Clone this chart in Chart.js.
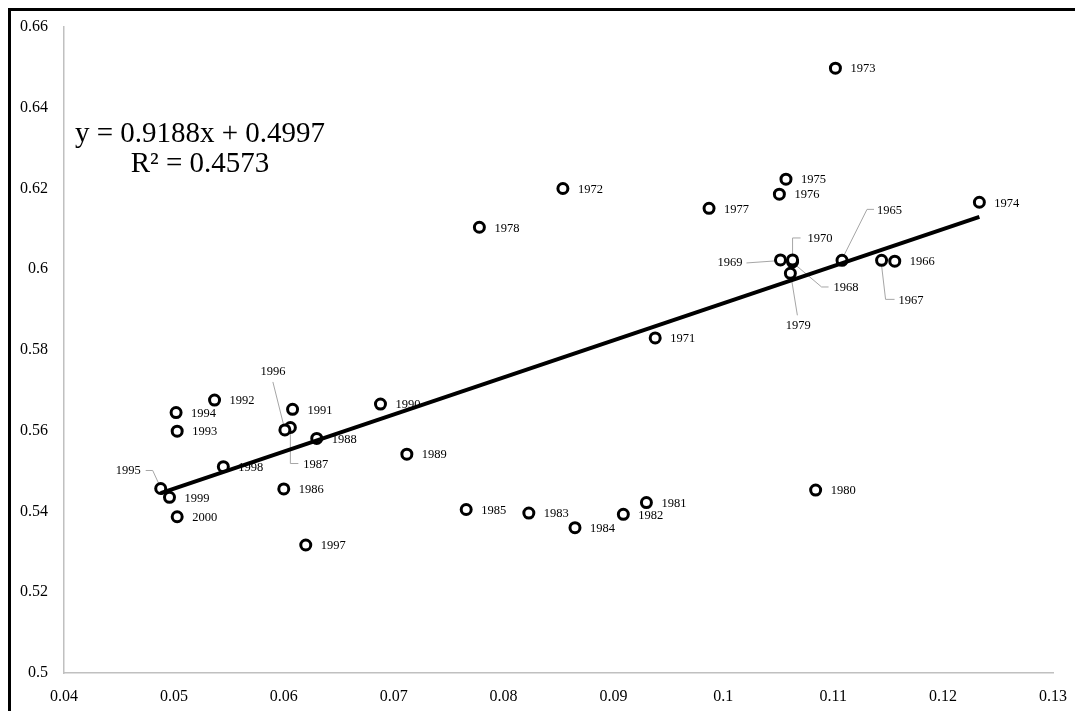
<!DOCTYPE html>
<html lang="en">
<head>
    <meta charset="UTF-8">
    <title>Scatter with trend line</title>
    <script src="https://cdn.jsdelivr.net/npm/chart.js"></script>
    <style>
        body { margin: 0; background: #fff; overflow: hidden; }
        canvas { display: block; }
    </style>
</head>
<body>
    <canvas id="myChart" width="1075" height="711"></canvas>
    <script>
        const years = [1965, 1966, 1967, 1968, 1969, 1970, 1971, 1972, 1973, 1974,
            1975, 1976, 1977, 1978, 1979, 1980, 1981, 1982, 1983, 1984,
            1985, 1986, 1987, 1988, 1989, 1990, 1991, 1992, 1993, 1994,
            1995, 1996, 1997, 1998, 1999, 2000];
        const xValues = [0.1108, 0.1156, 0.1144, 0.1063, 0.1052, 0.1063, 0.0938, 0.0854, 0.1102, 0.1233,
            0.1057, 0.1051, 0.0987, 0.0778, 0.1061, 0.1084, 0.0930, 0.0909, 0.0823, 0.0865,
            0.0766, 0.0600, 0.0606, 0.0630, 0.0712, 0.0688, 0.0608, 0.0537, 0.0503, 0.0502,
            0.0488, 0.0601, 0.0620, 0.0545, 0.0496, 0.0503];
        const yValues = [0.6022, 0.6020, 0.6022, 0.6018, 0.6023, 0.6023, 0.5830, 0.6200, 0.6498, 0.6166,
            0.6223, 0.6186, 0.6151, 0.6104, 0.5990, 0.5453, 0.5422, 0.5393, 0.5396, 0.5360,
            0.5405, 0.5456, 0.5608, 0.5581, 0.5542, 0.5666, 0.5653, 0.5676, 0.5599, 0.5645,
            0.5457, 0.5602, 0.5317, 0.5511, 0.5435, 0.5387];
        const xTicks = [0.04, 0.05, 0.06, 0.07, 0.08, 0.09, 0.1, 0.11, 0.12, 0.13];
        const yTicks = [0.5, 0.52, 0.54, 0.56, 0.58, 0.6, 0.62, 0.64, 0.66];
        const trendSlope = 0.9188;
        const trendIntercept = 0.4997;
        const equationLines = ['y = 0.9188x + 0.4997', 'R\u00b2 = 0.4573'];

        // label placement (pixel offsets from the marker), default is right of the point
        const labelPlacement = {
            1965: { dx: 35, dy: -50, leader: [[2, -5], [25, -51], [32, -51]] },
            1970: { dx: 15, dy: -21, leader: [[0, -5], [0, -22], [8, -22]] },
            1969: { dx: -38, dy: 3, align: 'right', leader: [[-6, 1], [-34, 3]] },
            1968: { dx: 41, dy: 26, leader: [[3, 3], [29, 25], [36, 25]] },
            1979: { dx: 8, dy: 52, align: 'center', leader: [[1, 5], [7, 42]] },
            1967: { dx: 17, dy: 40, leader: [[0, 5], [4, 39], [13, 39]] },
            1995: { dx: -20, dy: -18, align: 'right', leader: [[-2, -5], [-8, -18], [-15, -18]] },
            1996: { dx: -12, dy: -58, align: 'center', leader: [[-1, -4], [-12, -48]] },
            1987: { dx: 13, dy: 37, leader: [[0, 4], [0, 36], [8, 36]] }
        };

        const serif = "'Liberation Serif', 'Times New Roman', serif";
        Chart.defaults.font.family = serif;
        Chart.defaults.color = '#000';

        const points = years.map((yr, i) => ({ x: xValues[i], y: yValues[i] }));
        const xMin = Math.min(...xValues), xMax = Math.max(...xValues);
        const trend = [xMin, xMax].map(x => ({ x: x, y: trendSlope * x + trendIntercept }));

        const frame = {
            id: 'frame',
            beforeDraw(chart) {
                const c = chart.ctx;
                c.save();
                c.fillStyle = '#fff';
                c.fillRect(0, 0, chart.width, chart.height);
                c.fillStyle = '#000';
                c.fillRect(8, 8, 3, chart.height);
                c.fillRect(8, 8, chart.width, 3);
                c.restore();
            }
        };

        const yearLabels = {
            id: 'yearLabels',
            beforeDatasetsDraw(chart) {
                const c = chart.ctx;
                const meta = chart.getDatasetMeta(0);
                c.save();
                c.strokeStyle = '#a6a6a6';
                c.lineWidth = 1;
                years.forEach((yr, i) => {
                    const p = labelPlacement[yr];
                    if (!p || !p.leader) return;
                    const el = meta.data[i];
                    c.beginPath();
                    p.leader.forEach(([dx, dy], k) => {
                        if (k === 0) c.moveTo(el.x + dx, el.y + dy);
                        else c.lineTo(el.x + dx, el.y + dy);
                    });
                    c.stroke();
                });
                c.restore();
            },
            afterDatasetsDraw(chart) {
                const c = chart.ctx;
                const meta = chart.getDatasetMeta(0);
                c.save();
                c.fillStyle = '#000';
                c.font = '12.5px ' + serif;
                c.textBaseline = 'middle';
                years.forEach((yr, i) => {
                    const el = meta.data[i];
                    const p = labelPlacement[yr] || { dx: 15, dy: 1 };
                    c.textAlign = p.align || 'left';
                    c.fillText(String(yr), el.x + p.dx, el.y + p.dy);
                });
                // regression equation
                const area = chart.chartArea;
                c.font = '29px ' + serif;
                c.textAlign = 'center';
                c.fillText(equationLines[0], area.left + 136, 134);
                c.fillText(equationLines[1], area.left + 136, 164);
                c.restore();
            }
        };

        const ctx = document.getElementById('myChart').getContext('2d');
        new Chart(ctx, {
            type: 'scatter',
            data: {
                datasets: [{
                    label: 'Years',
                    data: points,
                    pointRadius: 5,
                    pointBorderWidth: 3,
                    pointBorderColor: '#000',
                    pointBackgroundColor: '#fff',
                    order: 1
                }, {
                    type: 'line',
                    label: 'Trend',
                    data: trend,
                    borderColor: '#000',
                    borderWidth: 4,
                    pointRadius: 0,
                    fill: false,
                    order: 0
                }]
            },
            options: {
                responsive: false,
                animation: false,
                devicePixelRatio: 1,
                layout: { padding: { top: 27, right: 22, bottom: 0, left: 0 } },
                plugins: {
                    legend: { display: false },
                    tooltip: { enabled: false }
                },
                scales: {
                    x: {
                        type: 'linear',
                        min: 0.04,
                        max: 0.13,
                        afterBuildTicks: s => { s.ticks = xTicks.map(v => ({ value: v })); },
                        afterFit: s => { s.height = 38; s.paddingLeft = 0; s.paddingRight = 0; },
                        grid: { display: false, drawTicks: false },
                        border: { display: true, color: '#c0c0c0', width: 1.5 },
                        ticks: {
                            padding: 14,
                            maxRotation: 0,
                            font: { size: 16, family: serif },
                            color: '#000',
                            callback: v => String(v)
                        }
                    },
                    y: {
                        type: 'linear',
                        min: 0.5,
                        max: 0.66,
                        afterBuildTicks: s => { s.ticks = yTicks.map(v => ({ value: v })); },
                        afterFit: s => { s.width = 64; s.paddingTop = 0; s.paddingBottom = 0; },
                        grid: { display: false, drawTicks: false },
                        border: { display: true, color: '#c0c0c0', width: 1.5 },
                        ticks: {
                            padding: 16,
                            font: { size: 16, family: serif },
                            color: '#000',
                            callback: v => String(v)
                        }
                    }
                }
            },
            plugins: [frame, yearLabels]
        });
    </script>
</body>
</html>
